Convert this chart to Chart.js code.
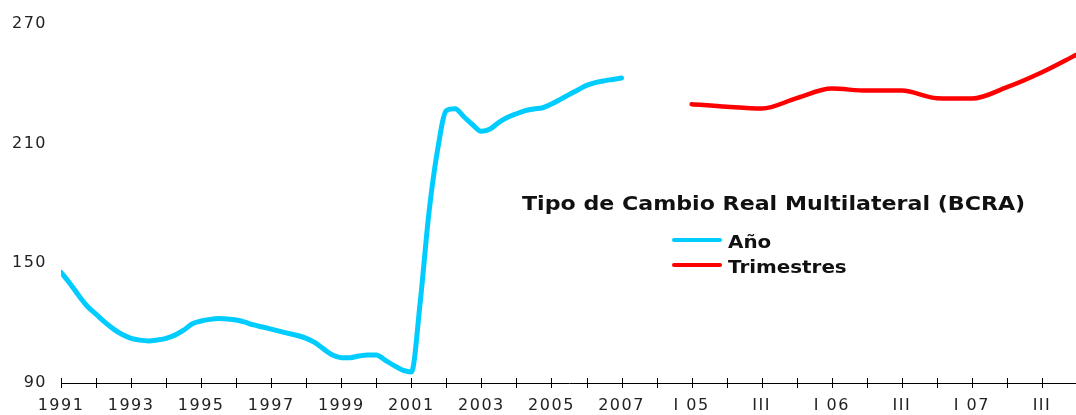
<!DOCTYPE html>
<html>
<head>
<meta charset="utf-8">
<script src="https://cdn.jsdelivr.net/npm/chart.js@4/dist/chart.umd.min.js"></script>
<style>
  html, body { margin: 0; padding: 0; background: #fff; overflow: hidden; }
  #wrap { position: relative; width: 1077px; height: 415px; }
  .txt { position: absolute; white-space: nowrap; font-family: "DejaVu Sans", sans-serif;
         font-weight: bold; color: #111; transform-origin: left top; }
  .swatch { position: absolute; height: 4px; width: 50px; border-radius: 2px; }
</style>
</head>
<body>
<div id="wrap">
  <canvas id="chart" width="1077" height="415"></canvas>
  <div class="txt" style="left:522px; top:192px; font-size:19px; line-height:22px; transform:scaleX(1.165);">Tipo de Cambio Real Multilateral (BCRA)</div>
  <div class="swatch" style="left:672px; top:238px; background:#00ccff;"></div>
  <div class="txt" style="left:728px; top:232px; font-size:17px; line-height:20px; transform:scaleX(1.17);">Año</div>
  <div class="swatch" style="left:672px; top:263px; background:#ff0000;"></div>
  <div class="txt" style="left:728px; top:257px; font-size:17px; line-height:20px; transform:scaleX(1.17);">Trimestres</div>
</div>
<script>
// x axis categories: 1991..2007, a gap, then quarters 2005-2007
const xLabels = ['1991', '1992', '1993', '1994', '1995', '1996', '1997', '1998', '1999', '2000',
    '2001', '2002', '2003', '2004', '2005', '2006', '2007', '',
    'I 05', 'II', 'III', 'IV', 'I 06', 'II', 'III', 'IV', 'I 07', 'II', 'III', 'IV'];

// Año: quarterly readings from 1991 to 2007 (start of each year = index 0..16)
const anioValues = [
    145.5, 140.0, 134.0, 128.5,
    124.5, 120.5, 117.0, 114.3,
    112.4, 111.5, 111.1, 111.6,
    112.4, 114.0, 116.5, 119.7,
    121.1, 121.9, 122.3, 122.1,
    121.6, 120.5, 119.1, 118.1,
    117.0, 115.9, 114.8, 113.8,
    112.4, 110.2, 107.0, 104.0,
    102.7, 102.7, 103.5, 104.1,
    104.1, 101.5, 98.8, 96.5,
    95.5, 130.0, 175.0, 207.0,
    226.6, 227.5, 223.5, 219.5,
    216.2, 217.4, 220.7, 223.2,
    225.0, 226.6, 227.4, 228.0,
    229.9, 232.2, 234.6, 236.9,
    239.2, 240.6, 241.5, 242.2,
    242.9
];
const anioStart = 0;       // 1991

// Trimestres: I 05 .. IV 07
const trimValues = [229.8, 228.5, 227.6, 232.8, 237.6, 236.6, 236.6, 232.8, 232.6, 238.3, 245.8, 254.7];
const trimStart = 18;      // position of 'I 05'

const yTicks = [90, 150, 210, 270];

const anioData = anioValues.map((v, i) => ({ x: anioStart + i / 4, y: v }));
const trimData = trimValues.map((v, i) => ({ x: trimStart + i, y: v }));

// tick marks crossing the x axis line, and a wider text spacing
const crossTicks = {
    id: 'crossTicks',
    beforeDraw(chart) {
        chart.ctx.letterSpacing = '1.5px';
    },
    afterDraw(chart) {
        const x = chart.scales.x;
        const c = chart.ctx;
        const base = chart.chartArea.bottom;
        c.save();
        c.strokeStyle = '#000';
        c.lineWidth = 1;
        c.beginPath();
        for (let i = 0; i < xLabels.length; i++) {
            const px = Math.round(x.getPixelForValue(i)) + 0.5;
            c.moveTo(px, base - 5);
            c.lineTo(px, base + 5);
        }
        c.stroke();
        c.restore();
    }
};

new Chart(document.getElementById('chart').getContext('2d'), {
    type: 'line',
    data: {
        datasets: [{
            label: 'Año',
            data: anioData,
            borderColor: '#00ccff',
            borderWidth: 5,
            pointRadius: 0,
            tension: 0.4,
            cubicInterpolationMode: 'monotone',
            borderCapStyle: 'round',
            borderJoinStyle: 'round'
        }, {
            label: 'Trimestres',
            data: trimData,
            borderColor: '#ff0000',
            borderWidth: 4.5,
            pointRadius: 0,
            tension: 0.4,
            cubicInterpolationMode: 'monotone',
            borderCapStyle: 'round',
            borderJoinStyle: 'round'
        }]
    },
    options: {
        responsive: false,
        animation: false,
        layout: { padding: { top: 24, right: 0, left: 0, bottom: 0 } },
        plugins: {
            legend: { display: false },
            tooltip: { enabled: false }
        },
        scales: {
            x: {
                type: 'linear',
                min: 0,
                max: xLabels.length - 1,
                afterBuildTicks: (s) => { s.ticks = xLabels.map((_, i) => ({ value: i })); },
                afterFit: (s) => { s.height = 32; s.paddingLeft = 0; s.paddingRight = 0; },
                grid: { drawOnChartArea: false, drawTicks: false },
                border: { display: true, color: '#000', width: 1 },
                ticks: {
                    autoSkip: false,
                    maxRotation: 0,
                    padding: 13,
                    color: '#222',
                    font: { family: 'DejaVu Sans', size: 16 },
                    callback: (v, i) => (i % 2 === 0 ? xLabels[i] : '')
                }
            },
            y: {
                min: 90,
                max: 270,
                afterBuildTicks: (s) => { s.ticks = yTicks.map(v => ({ value: v })); },
                afterFit: (s) => { s.width = 61; },
                grid: { display: false, drawTicks: false },
                border: { display: false },
                ticks: {
                    padding: 14,
                    color: '#222',
                    font: { family: 'DejaVu Sans', size: 16 }
                }
            }
        }
    },
    plugins: [crossTicks]
});
</script>
</body>
</html>
